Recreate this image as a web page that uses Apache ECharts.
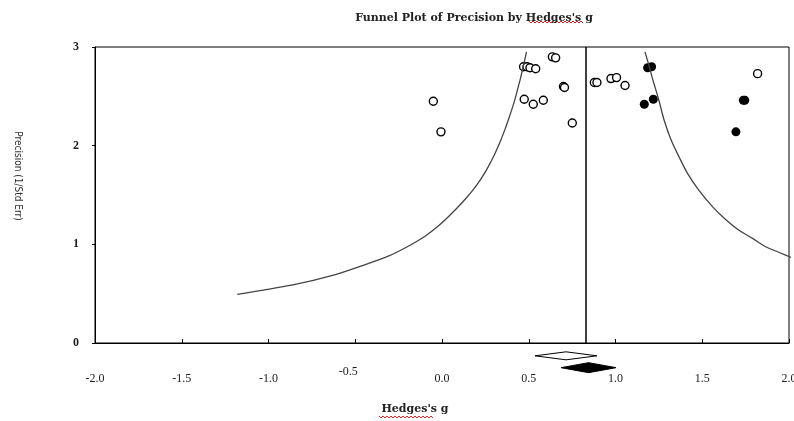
<!DOCTYPE html>
<html>
<head>
<meta charset="utf-8">
<script src="https://cdn.jsdelivr.net/npm/echarts@6/dist/echarts.min.js"></script>
<style>html,body{margin:0;padding:0;background:#fff;}#c{width:794px;height:421px;}</style>
</head>
<body>
<div id="c"></div>
<script>
// ---- data ----
const xTickMin = -2.0, xTickMax = 2.0, xTickStep = 0.5;
const yTickMin = 0, yTickMax = 3, yTickStep = 1;
const raisedTick = -0.5;

const openG = [-0.050, -0.006, 0.470, 0.490, 0.507, 0.540, 0.636, 0.655, 0.700, 0.706, 0.474, 0.526, 0.584, 0.751, 0.878, 0.893, 0.974, 1.006, 1.055, 1.819];
const openP = [2.45, 2.14, 2.80, 2.80, 2.79, 2.78, 2.90, 2.89, 2.60, 2.59, 2.47, 2.42, 2.46, 2.23, 2.64, 2.64, 2.68, 2.69, 2.61, 2.73];

const filledG = [1.185, 1.208, 1.166, 1.218, 1.737, 1.745, 1.694];
const filledP = [2.79, 2.80, 2.42, 2.47, 2.46, 2.46, 2.14];

const leftFunnelG = [-1.180, -0.860, -0.620, -0.450, -0.310, -0.200, -0.100, -0.025, 0.060, 0.140, 0.200, 0.255, 0.300, 0.340, 0.364, 0.386, 0.405, 0.422, 0.437, 0.452, 0.468, 0.487];
const leftFunnelP = [0.493, 0.588, 0.690, 0.790, 0.880, 0.976, 1.080, 1.180, 1.320, 1.470, 1.600, 1.750, 1.900, 2.060, 2.170, 2.280, 2.380, 2.480, 2.580, 2.680, 2.800, 2.950];
const rightFunnelG = [1.170, 1.190, 1.210, 1.230, 1.250, 1.280, 1.320, 1.368, 1.415, 1.480, 1.560, 1.630, 1.710, 1.790, 1.866, 1.940, 2.025];
const rightFunnelP = [2.950, 2.830, 2.700, 2.580, 2.460, 2.260, 2.060, 1.880, 1.720, 1.550, 1.380, 1.260, 1.145, 1.060, 0.976, 0.920, 0.858];

const meanEffect = 0.83;
// diamonds: [low, centre, high, row]
const diamondOpen = [0.536, 0.715, 0.893, -0.13];
const diamondFilled = [0.686, 0.845, 1.003, -0.25];

const zip = (a, b) => a.map((v, i) => [v, b[i]]);

const serif = "'DejaVu Serif', 'Liberation Serif', serif";
const tickSerif = "'Liberation Serif', 'Times New Roman', serif";
const chart = echarts.init(document.getElementById('c'), null, {renderer: 'canvas'});

function diamondRender(fill, halfH) {
  return function (params, api) {
    const lo = api.coord([api.value(0), api.value(3)]);
    const c = api.coord([api.value(1), api.value(3)]);
    const hi = api.coord([api.value(2), api.value(3)]);
    return {
      type: 'polygon',
      shape: {points: [lo, [c[0], c[1] - halfH], hi, [c[0], c[1] + halfH]]},
      style: {fill: fill, stroke: '#000', lineWidth: 1}
    };
  };
}

function wavy(x0, x1, y) {
  const pts = [];
  let up = true;
  for (let x = x0; x <= x1; x += 2) { pts.push([x, up ? y - 1 : y + 1]); up = !up; }
  return {type: 'polyline', shape: {points: pts}, style: {stroke: '#d22', lineWidth: 1, fill: null}, silent: true};
}

chart.setOption({
  animation: false,
  backgroundColor: '#fff',
  title: {
    text: "Funnel Plot of Precision by Hedges's g",
    left: 469, top: 8, textAlign: 'center',
    textStyle: {fontFamily: serif, fontSize: 11, fontWeight: 'bold', color: '#222'}
  },
  grid: {left: 95, right: 5, top: 47, bottom: 78, show: true, borderColor: '#000', borderWidth: 1,
    outerBoundsMode: 'none', containLabel: false},
  xAxis: [{
    type: 'value', min: xTickMin, max: xTickMax, interval: xTickStep,
    axisLine: {show: true, onZero: false, lineStyle: {color: '#000', width: 1}},
    axisTick: {show: true, inside: true, length: 4, lineStyle: {color: '#000'}},
    splitLine: {show: false},
    axisLabel: {margin: 30, fontFamily: tickSerif, fontSize: 12, color: '#222', hideOverlap: false,
      formatter: v => (Math.abs(v - raisedTick) < 1e-9 ? '' : v.toFixed(1))},
    name: "Hedges's g", nameLocation: 'middle', nameGap: 61,
    nameTextStyle: {fontFamily: serif, fontSize: 11, fontWeight: 'bold', color: '#222', padding: [0, 54, 0, 0]}
  }, {
    type: 'value', min: xTickMin, max: xTickMax, interval: xTickStep, position: 'bottom',
    axisLine: {show: false, onZero: false}, axisTick: {show: false}, splitLine: {show: false},
    axisLabel: {margin: 23, fontFamily: tickSerif, fontSize: 12, color: '#222', padding: [0, 14, 0, 0],
      formatter: v => (Math.abs(v - raisedTick) < 1e-9 ? v.toFixed(1) : '')}
  }],
  yAxis: {
    type: 'value', min: yTickMin, max: yTickMax, interval: yTickStep,
    axisLine: {show: true, onZero: false, lineStyle: {color: '#000', width: 1}},
    axisTick: {show: true, inside: false, length: 3, lineStyle: {color: '#000'}},
    splitLine: {show: false},
    axisLabel: {margin: 16, fontFamily: tickSerif, fontSize: 12, fontWeight: 'bold', color: '#222'}
  },
  graphic: [{
    type: 'text', x: 18, y: 176, rotation: -Math.PI / 2,
    style: {text: 'Precision (1/Std Err)', fontSize: 10,
      fontFamily: "'Liberation Sans Narrow', 'DejaVu Sans Condensed', 'Liberation Sans', sans-serif",
      fill: '#333', textAlign: 'center', textVerticalAlign: 'middle'}
  }, wavy(529, 583, 22), wavy(379, 433, 417)],
  series: [
    {type: 'line', data: zip(leftFunnelG, leftFunnelP), smooth: 0.3, showSymbol: false,
      lineStyle: {color: '#444', width: 1.3}, silent: true},
    {type: 'line', data: zip(rightFunnelG, rightFunnelP), smooth: 0.3, showSymbol: false,
      lineStyle: {color: '#444', width: 1.3}, silent: true},
    {type: 'line', data: [[meanEffect, yTickMin], [meanEffect, yTickMax]], showSymbol: false,
      lineStyle: {color: '#000', width: 1.5}, silent: true},
    {type: 'scatter', data: zip(openG, openP), symbol: 'circle', symbolSize: 8,
      itemStyle: {color: '#fff', borderColor: '#000', borderWidth: 1.4, opacity: 1}},
    {type: 'scatter', data: zip(filledG, filledP), symbol: 'circle', symbolSize: 9,
      itemStyle: {color: '#000', opacity: 1}},
    {type: 'custom', data: [diamondOpen], clip: false, renderItem: diamondRender('#fff', 4),
      encode: {x: [0, 1, 2], y: 3}},
    {type: 'custom', data: [diamondFilled], clip: false, renderItem: diamondRender('#000', 5),
      encode: {x: [0, 1, 2], y: 3}}
  ]
});
</script>
</body>
</html>
